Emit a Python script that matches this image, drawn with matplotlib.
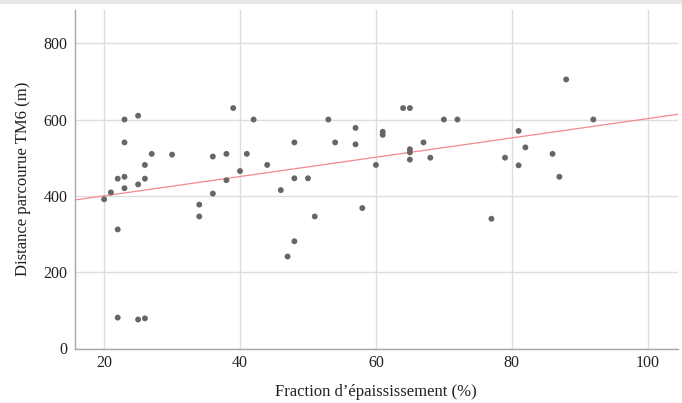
import matplotlib
matplotlib.use("Agg")
import matplotlib.pyplot as plt
import numpy as np

# Data
fraction = [20, 21, 22, 22, 22, 23, 23, 23, 23, 25, 25, 25, 26, 26, 26, 27, 30,
            34, 34, 36, 36, 38, 38, 39, 40, 41, 42, 44, 46, 47, 48, 48, 48, 50,
            51, 53, 54, 57, 57, 58, 60, 61, 61, 64, 65, 65, 65, 65, 67, 68, 70,
            72, 77, 79, 81, 81, 82, 86, 87, 88, 92]
distance = [391, 409, 445, 312, 81, 450, 420, 540, 600, 610, 430, 76, 445, 481, 79, 510, 508,
            377, 346, 406, 503, 510, 441, 630, 465, 510, 600, 481, 415, 241, 540, 446, 281, 446,
            346, 600, 540, 578, 535, 368, 481, 568, 560, 630, 630, 522, 514, 495, 540, 500, 600,
            600, 340, 500, 570, 480, 527, 510, 450, 705, 600]

fit_intercept = 349.4   # value at x = 0
fit_slope = 2.53

xticks = [20, 40, 60, 80, 100]
yticks = [0, 200, 400, 600, 800]

plt.rcParams['font.family'] = ['Liberation Serif', 'DejaVu Serif']

fig = plt.figure(figsize=(6.82, 4.03), dpi=100)
# light gray strip at top
fig.patches.append(plt.Rectangle((0, 1 - 3 / 403), 1, 3 / 403, transform=fig.transFigure,
                                 color='#e6e6e6', zorder=0))

ax = fig.add_axes([74.5 / 682, 1 - 348.5 / 403, (678 - 74.5) / 682, (348.5 - 10) / 403])
ax.set_xlim(15.64, 104.46)
ax.set_ylim(0, 887)

ax.set_xticks(xticks)
ax.set_yticks(yticks)
ax.grid(True, color='#dedede', linewidth=1.0)
ax.set_axisbelow(True)

for s in ['top', 'right']:
    ax.spines[s].set_visible(False)
for s in ['left', 'bottom']:
    ax.spines[s].set_color('#a8a8a8')
    ax.spines[s].set_linewidth(1.0)
ax.tick_params(length=0, labelsize=11.5, colors='#222222', pad=5)

ax.scatter(fraction, distance, s=18, color='#666666', edgecolors='none', zorder=3)

xl = np.array(ax.get_xlim())
ax.plot(xl, fit_intercept + fit_slope * xl, color='#f28a8a', linewidth=0.9, zorder=2)
ax.set_xlim(15.64, 104.46)

ax.set_xlabel("Fraction d\u2019épaississement (%)", fontsize=12, color='#222222', labelpad=9)
ax.set_ylabel("Distance parcourue TM6 (m)", fontsize=12, color='#222222', labelpad=9)

fig.savefig("out.png", dpi=100)
